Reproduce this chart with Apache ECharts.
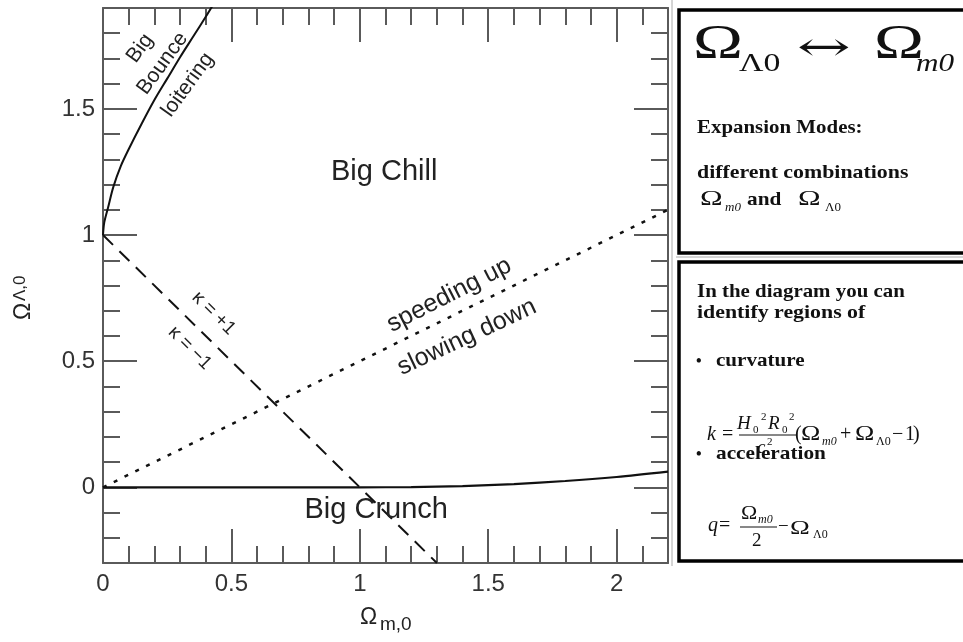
<!DOCTYPE html>
<html><head><meta charset="utf-8">
<script src="https://cdn.jsdelivr.net/npm/echarts@6/dist/echarts.min.js"></script>
<style>html,body{margin:0;padding:0;background:#fff}#c{width:963px;height:642px}</style>
</head><body><div id="c"></div>
<script>
// ---- data ----
const xRange = [0, 2.2];
const yRange = [-0.3, 1.9];
const xMajorTicks = [0, 0.5, 1, 1.5, 2];
const yMajorTicks = [0, 0.5, 1, 1.5];
const bounceX = [0, 0.005, 0.02, 0.04, 0.07, 0.1, 0.15, 0.2, 0.25, 0.3, 0.35, 0.4, 0.43];
const bounceY = [1, 1.05, 1.11, 1.19, 1.275, 1.34, 1.44, 1.535, 1.62, 1.705, 1.785, 1.865, 1.915];
const crunchX = [0, 1, 1.2, 1.4, 1.6, 1.8, 2.0, 2.2];
const crunchY = [0, 0, 0.001, 0.005, 0.013, 0.025, 0.041, 0.062];
const flatX = [0, 1.3];
const flatY = [1, -0.3];
const accelX = [0, 2.2];
const accelY = [0, 1.1];

const zip = (a, b) => a.map((v, i) => [v, b[i]]);
const AX = '#5a5a5a';
const SANS = '"Liberation Sans", Arial, sans-serif';
const SERIF = '"Liberation Serif", "Times New Roman", serif';

function mkAxis(kind, pos, major, showLabel) {
  const isX = kind === 'x';
  const a = {
    type: 'value', position: pos, min: isX ? xRange[0] : yRange[0], max: isX ? xRange[1] : yRange[1],
    interval: 0.1, splitLine: { show: false },
    axisLine: { show: !major, onZero: false, lineStyle: { color: AX, width: 2 } },
    axisTick: { show: true, inside: true, length: major ? 34 : 17, lineStyle: { color: AX, width: 2 } },
    axisLabel: { show: false }
  };
  if (major) a.axisTick.customValues = isX ? xMajorTicks : yMajorTicks;
  if (showLabel) {
    a.axisLabel = { show: true, customValues: isX ? xMajorTicks : yMajorTicks, color: '#333',
      fontSize: 24, fontFamily: SANS, margin: isX ? 9 : 8 };
  }
  return a;
}

const chart = echarts.init(document.getElementById('c'), null, { renderer: 'canvas' });
chart.setOption({
  animation: false,
  backgroundColor: '#fff',
  grid: { left: 103, top: 8, right: 295, bottom: 79, containLabel: false },
  xAxis: [mkAxis('x', 'bottom', false, true), mkAxis('x', 'bottom', true, false),
          mkAxis('x', 'top', false, false), mkAxis('x', 'top', true, false)],
  yAxis: [mkAxis('y', 'left', false, true), mkAxis('y', 'left', true, false),
          mkAxis('y', 'right', false, false), mkAxis('y', 'right', true, false)],
  series: [
    { type: 'line', data: zip(bounceX, bounceY), showSymbol: false, smooth: 0.3, clip: true,
      lineStyle: { color: '#111', width: 2 } },
    { type: 'line', data: zip(crunchX, crunchY), showSymbol: false, smooth: 0.3, clip: true,
      lineStyle: { color: '#111', width: 2.2 } },
    { type: 'line', data: zip(flatX, flatY), showSymbol: false, clip: true,
      lineStyle: { color: '#111', width: 2, type: [14, 9] } },
    { type: 'line', data: zip(accelX, accelY), showSymbol: false, clip: true,
      lineStyle: { color: '#111', width: 2.5, type: [4, 8] } }
  ]
});

const P = (x, y) => chart.convertToPixel({ gridIndex: 0 }, [x, y]);
const D = Math.PI / 180;
function lab(text, x, y, size, rotDeg) {
  const p = P(x, y);
  return { type: 'text', x: p[0], y: p[1], rotation: (rotDeg || 0) * D, z: 10,
    style: { text, fontSize: size, fontFamily: SANS, fill: '#222', align: 'center', verticalAlign: 'middle' } };
}
// text placed by baseline (pixel coords)
function t(text, x, base, size, o) {
  o = o || {};
  const sx = o.sx || (o.bold ? 1.12 : 1);
  return { type: 'text', x: x, y: base - 0.3 * size, scaleX: sx, z: 10,
    style: { text, fontSize: size, fontFamily: o.family || SERIF, fontWeight: o.bold ? 'bold' : 'normal',
      fontStyle: o.italic ? 'italic' : 'normal', fill: '#111', align: 'left', verticalAlign: 'middle' } };
}
function line(x1, y1, x2, y2, w, c) {
  return { type: 'line', shape: { x1, y1, x2, y2 }, z: 10, style: { stroke: c || '#111', lineWidth: w || 1 } };
}

const g = [];
// plot annotations
g.push(lab('Big Chill', 1.095, 1.25, 29, 0));
g.push(lab('Big Crunch', 1.064, -0.091, 29, 0));
g.push(lab('speeding up', 1.348, 0.762, 25, 27));
g.push(lab('slowing down', 1.417, 0.595, 25, 25));
g.push(lab('Big', 0.144, 1.74, 21, 54));
g.push(lab('Bounce', 0.232, 1.68, 21, 54));
g.push(lab('loitering', 0.33, 1.595, 21, 54));
g.push(lab('κ = +1', 0.431, 0.69, 19, -45));
g.push(lab('κ = −1', 0.338, 0.552, 19, -45));

// axis titles
g.push({ type: 'group', x: 360, y: 618, z: 10, children: [
  { type: 'text', x: 0, y: 0, style: { text: 'Ω', fontSize: 23, fontFamily: SANS, fill: '#222', align: 'left', verticalAlign: 'middle' } },
  { type: 'text', x: 20, y: 7, style: { text: 'm,0', fontSize: 19, fontFamily: SANS, fill: '#222', align: 'left', verticalAlign: 'middle' } }
]});
g.push({ type: 'group', x: 24, y: 320, rotation: 90 * D, z: 10, children: [
  { type: 'text', x: 0, y: 0, style: { text: 'Ω', fontSize: 23, fontFamily: SANS, fill: '#222', align: 'left', verticalAlign: 'middle' } },
  { type: 'text', x: 19, y: -4, style: { text: 'Λ,0', fontSize: 17, fontFamily: SANS, fill: '#222', align: 'left', verticalAlign: 'middle' } }
]});

// right panels
g.push(line(672, 0, 672, 566, 1, '#aaa'));
g.push(line(676, 257, 963, 257, 1, '#aaa'));
g.push({ type: 'rect', shape: { x: 679, y: 10, width: 300, height: 243 }, z: 9, style: { fill: '#fff', stroke: '#000', lineWidth: 3.5 } });
g.push({ type: 'rect', shape: { x: 679, y: 262, width: 300, height: 299 }, z: 9, style: { fill: '#fff', stroke: '#000', lineWidth: 3.5 } });

// box 1 header
g.push(t('Ω', 693, 60, 48, { sx: 1.4 }));
g.push(t('Λ0', 739, 72, 26, { sx: 1.3 }));
g.push(t('↔', 797, 62, 40, { family: '"DejaVu Serif", serif', sx: 1.6 }));
g.push(t('Ω', 874, 60, 48, { sx: 1.4 }));
g.push(t('m0', 916, 72, 26, { italic: true, sx: 1.2 }));
g.push(t('Expansion Modes:', 697, 134, 19, { bold: true, sx: 1.1 }));
g.push(t('different combinations', 697, 179, 19, { bold: true, sx: 1.15 }));
g.push(t('Ω', 700, 206, 21, { sx: 1.45 }));
g.push(t('m0', 725, 211, 13, { italic: true }));
g.push(t('and', 747, 206, 19, { bold: true }));
g.push(t('Ω', 798, 206, 21, { sx: 1.45 }));
g.push(t('Λ0', 825, 211, 13));

// box 2
g.push(t('In the diagram you can', 697, 298, 19, { bold: true, sx: 1.1 }));
g.push(t('identify regions of', 697, 319, 19, { bold: true, sx: 1.15 }));
g.push(t('•', 696, 367, 16, { bold: true, sx: 1 }));
g.push(t('curvature', 716, 367, 19, { bold: true, sx: 1.11 }));
// k formula
g.push(t('k', 707, 441, 20, { italic: true }));
g.push(t('=', 722, 441, 20));
g.push(t('H', 737, 430, 19, { italic: true }));
g.push(t('0', 753, 433, 11));
g.push(t('2', 761, 420, 11));
g.push(t('R', 768, 430, 19, { italic: true }));
g.push(t('0', 782, 433, 11));
g.push(t('2', 789, 420, 11));
g.push(line(739, 435, 797, 435, 1));
g.push(t('c', 757, 454, 19, { italic: true }));
g.push(t('2', 767, 445, 11));
g.push(t('(', 795, 441, 20));
g.push(t('Ω', 801, 441, 20, { sx: 1.3 }));
g.push(t('m0', 822, 445, 12, { italic: true }));
g.push(t('+', 840, 441, 20));
g.push(t('Ω', 855, 441, 20, { sx: 1.3 }));
g.push(t('Λ0', 876, 445, 12));
g.push(t('−', 892, 441, 20));
g.push(t('1', 905, 441, 20));
g.push(t(')', 913, 441, 20));
g.push(t('•', 696, 460, 16, { bold: true, sx: 1 }));
g.push(t('acceleration', 716, 460, 19, { bold: true, sx: 1.12 }));
// q formula
g.push(t('q', 708, 532, 20, { italic: true }));
g.push(t('=', 719, 532, 20));
g.push(t('Ω', 741, 520, 19, { sx: 1.15 }));
g.push(t('m0', 758, 523, 12, { italic: true }));
g.push(line(740, 527, 777, 527, 1));
g.push(t('2', 752, 547, 19));
g.push(t('−', 778, 533, 19));
g.push(t('Ω', 790, 535, 19, { sx: 1.4 }));
g.push(t('Λ0', 813, 538, 12));

chart.setOption({ graphic: { elements: g } });
</script>
</body></html>
